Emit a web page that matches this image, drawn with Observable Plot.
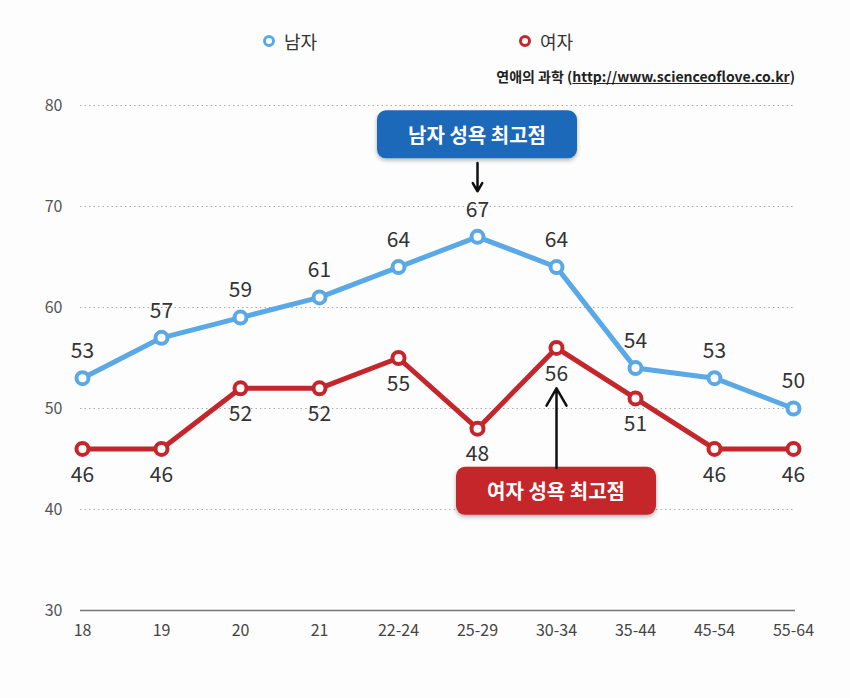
<!DOCTYPE html>
<html>
<head>
<meta charset="utf-8">
<script src="https://cdn.jsdelivr.net/npm/d3@7"></script>
<script src="https://cdn.jsdelivr.net/npm/@observablehq/plot@0.6"></script>
<style>
  body { margin: 0; background: #fdfdfd; font-family: "Noto Sans CJK KR", "Noto Sans", sans-serif; }
  #wrap { width: 850px; position: relative; }
  #header { position: relative; height: 90px; }
  .leg { position: absolute; top: 28px; display: flex; align-items: center; font-size: 18px; color: #333; }
  .leg svg { margin-right: 8px; }
  #source { position: absolute; right: 55px; top: 66px; font-size: 14px; font-weight: bold; color: #222; }
  #source u { font-weight: bold; }
</style>
</head>
<body>
<div id="wrap">
  <div id="header"></div>
  <div id="chart"></div>
</div>
<script>
const ages = ["18", "19", "20", "21", "22-24", "25-29", "30-34", "35-44", "45-54", "55-64"];
const menValues = [53, 57, 59, 61, 64, 67, 64, 54, 53, 50];
const womenValues = [46, 46, 52, 52, 55, 48, 56, 51, 46, 46];
const yTicks = [30, 40, 50, 60, 70, 80];
const seriesNames = ["남자", "여자"];
const seriesColors = ["#5aa9e6", "#c4262b"];
const sourceLabel = "연애의 과학";
const sourceUrl = "http://www.scienceoflove.co.kr";
const menPeakLabel = "남자 성욕 최고점";
const womenPeakLabel = "여자 성욕 최고점";
const menPeakAge = "25-29";
const womenPeakAge = "30-34";

const men = ages.map((a, i) => ({age: a, value: menValues[i]}));
const women = ages.map((a, i) => ({age: a, value: womenValues[i]}));

// header: legend + source
const header = document.getElementById("header");
const legX = [262, 518];
seriesNames.forEach((name, i) => {
  const d = document.createElement("div");
  d.className = "leg";
  d.style.left = legX[i] + "px";
  d.innerHTML = `<svg width="14" height="14"><circle cx="7" cy="7" r="4.5" fill="#fff" stroke="${seriesColors[i]}" stroke-width="3"/></svg><span>${name}</span>`;
  header.appendChild(d);
});
const src = document.createElement("div");
src.id = "source";
src.innerHTML = `${sourceLabel} (<u>${sourceUrl}</u>)`;
header.appendChild(src);

function callout(label, age, yValue, fill) {
  return (index, scales) => {
    const cx = scales.x(age);
    const cy = scales.y(yValue);
    const w = 200, h = 48;
    const g = d3.create("svg:g");
    g.append("rect")
      .attr("x", cx - w / 2).attr("y", cy - h / 2)
      .attr("width", w).attr("height", h)
      .attr("rx", 9).attr("fill", fill)
      .attr("filter", "url(#shadow)");
    g.append("text")
      .attr("x", cx).attr("y", cy)
      .attr("text-anchor", "middle").attr("dominant-baseline", "central")
      .attr("fill", "#fff").attr("font-size", 20).attr("font-weight", "bold")
      .attr("font-family", '"Noto Sans CJK KR", sans-serif')
      .text(label);
    return g.node();
  };
}

const defs = () => {
  const s = d3.create("svg:defs");
  const f = s.append("filter").attr("id", "shadow").attr("x", "-10%").attr("y", "-20%").attr("width", "120%").attr("height", "150%");
  f.append("feDropShadow").attr("dx", 0).attr("dy", 2).attr("stdDeviation", 2).attr("flood-color", "#000").attr("flood-opacity", 0.3);
  return s.node();
};

const chart = Plot.plot({
  width: 850,
  height: 608,
  marginTop: 15,
  marginBottom: 88,
  marginLeft: 80,
  marginRight: 55,
  style: {background: "transparent", fontFamily: '"Noto Sans CJK KR", sans-serif'},
  x: {type: "point", domain: ages, padding: 0, label: null},
  y: {domain: [30, 80], label: null},
  marks: [
    defs,
    Plot.ruleY(yTicks.filter(t => t > 30), {stroke: "#aaa", strokeDasharray: "1.5,3", strokeWidth: 1}),
    Plot.ruleY([30], {stroke: "#777", strokeWidth: 1.5}),
    Plot.axisY({ticks: yTicks, tickSize: 0, tickPadding: 18, fontSize: 16, fill: "#555", label: null}),
    Plot.axisX({tickSize: 0, tickPadding: 14, fontSize: 16, fill: "#444", label: null}),
    Plot.line(men, {x: "age", y: "value", stroke: seriesColors[0], strokeWidth: 5}),
    Plot.line(women, {x: "age", y: "value", stroke: seriesColors[1], strokeWidth: 5}),
    Plot.dot(men, {x: "age", y: "value", r: 6, fill: "#fff", stroke: seriesColors[0], strokeWidth: 4}),
    Plot.dot(women, {x: "age", y: "value", r: 6, fill: "#fff", stroke: seriesColors[1], strokeWidth: 4}),
    Plot.text(men, {x: "age", y: "value", text: d => String(d.value), dy: -27, fontSize: 21, fill: "#333"}),
    Plot.text(women, {x: "age", y: "value", text: d => String(d.value), dy: 26, fontSize: 21, fill: "#333"}),
    callout(menPeakLabel, menPeakAge, 77.1, "#1f68b9"),
    callout(womenPeakLabel, womenPeakAge, 41.8, "#c4262b"),
    Plot.arrow([{x: menPeakAge, y1: 74.3, y2: 71.5}], {x: "x", y1: "y1", y2: "y2", stroke: "#111", strokeWidth: 2.5, headLength: 12}),
    Plot.arrow([{x: womenPeakAge, y1: 44.1, y2: 52.0}], {x: "x", y1: "y1", y2: "y2", stroke: "#111", strokeWidth: 2.5, headLength: 12})
  ]
});
document.getElementById("chart").appendChild(chart);
</script>
</body>
</html>
